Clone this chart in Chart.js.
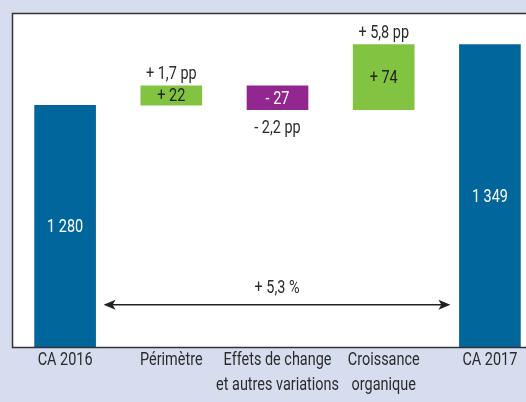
<!DOCTYPE html>
<html>
<head>
<meta charset="utf-8">
<script src="https://cdn.jsdelivr.net/npm/chart.js@4.4.0/dist/chart.umd.min.js"></script>
<style>
  html, body { margin: 0; padding: 0; overflow: hidden; background: #d5ddef; }
  #chartContainer { width: 543px; height: 402px; }
</style>
</head>
<body>
<div id="chartContainer"><canvas id="myChart"></canvas></div>
<script>
const categories = [["CA 2016"], ["Périmètre"], ["Effets de change", "et autres variations"], ["Croissance", "organique"], ["CA 2017"]];
const totals = [1280, null, null, null, 1349];
const changes = [null, 22, -27, 74, null];
const valueLabels = ["1 280", "+ 22", "- 27", "+ 74", "1 349"];
const ppLabels = ["", "+ 1,7 pp", "- 2,2 pp", "+ 5,8 pp", ""];
const growthLabel = "+ 5,3 %";

const barColors = ["#00669b", "#82c341", "#92278f", "#82c341", "#00669b"];
const valueColors = ["#ffffff", "#222222", "#ffffff", "#222222", "#ffffff"];
const textFont = '19px Roboto, "DejaVu Sans", sans-serif';
const narrow = 0.76; // the original uses a condensed face

// waterfall: totals stand on their own, changes float on the running total
var running = 0;
var barData = categories.map(function (c, i) {
    if (totals[i] != null) {
        running = totals[i];
        return totals[i];
    }
    var start = running;
    running += changes[i];
    return [start, running];
});

function narrowText(ctx, text, x, y) {
    ctx.save();
    ctx.translate(x, y);
    ctx.scale(narrow, 1);
    ctx.fillText(text, 0, 0);
    ctx.restore();
}

const backgroundPlugin = {
    id: 'background',
    beforeDraw(chart) {
        const ctx = chart.ctx, a = chart.chartArea;
        ctx.save();
        ctx.fillStyle = '#d5ddef';
        ctx.fillRect(0, 0, chart.width, chart.height);
        ctx.fillStyle = '#ffffff';
        ctx.fillRect(a.left, a.top, a.right - a.left, a.bottom - a.top);
        ctx.restore();
    }
};

const labelsPlugin = {
    id: 'waterfallLabels',
    afterDatasetsDraw(chart) {
        const ctx = chart.ctx, a = chart.chartArea;
        const meta = chart.getDatasetMeta(0);
        const xScale = chart.scales.x;
        ctx.save();

        // frame
        ctx.strokeStyle = '#333333';
        ctx.lineWidth = 1.5;
        ctx.strokeRect(a.left + 0.5, a.top + 0.5, a.right - a.left + 5, a.bottom - a.top);

        ctx.font = textFont;
        ctx.textAlign = 'center';
        meta.data.forEach(function (bar, i) {
            var top = Math.min(bar.y, bar.base);
            var bottom = Math.min(Math.max(bar.y, bar.base), a.bottom);
            ctx.fillStyle = valueColors[i];
            ctx.textBaseline = 'middle';
            narrowText(ctx, valueLabels[i], bar.x, (top + bottom) / 2 + 1);

            if (ppLabels[i]) {
                ctx.fillStyle = '#2b2b2b';
                ctx.textBaseline = 'alphabetic';
                if (changes[i] >= 0) {
                    narrowText(ctx, ppLabels[i], bar.x, top - 7);
                } else {
                    narrowText(ctx, ppLabels[i], bar.x, bottom + 23);
                }
            }
        });

        // category labels under the frame
        ctx.fillStyle = '#2b2b2b';
        ctx.textBaseline = 'alphabetic';
        categories.forEach(function (lines, i) {
            var x = xScale.getPixelForValue(i);
            lines.forEach(function (line, j) {
                narrowText(ctx, line, x, a.bottom + 18 + j * 25);
            });
        });

        // growth arrow between the two totals
        var first = meta.data[0], last = meta.data[meta.data.length - 1];
        var x1 = first.x + first.width / 2 + 8;
        var x2 = last.x - last.width / 2 - 9;
        var y = chart.scales.y.getPixelForValue(1053);
        ctx.strokeStyle = '#222222';
        ctx.fillStyle = '#222222';
        ctx.lineWidth = 1.5;
        ctx.beginPath();
        ctx.moveTo(x1 + 6, y);
        ctx.lineTo(x2 - 6, y);
        ctx.stroke();
        ctx.beginPath();
        ctx.moveTo(x1, y);
        ctx.lineTo(x1 + 12, y - 5);
        ctx.lineTo(x1 + 9, y);
        ctx.lineTo(x1 + 12, y + 5);
        ctx.closePath();
        ctx.fill();
        ctx.beginPath();
        ctx.moveTo(x2, y);
        ctx.lineTo(x2 - 12, y - 5);
        ctx.lineTo(x2 - 9, y);
        ctx.lineTo(x2 - 12, y + 5);
        ctx.closePath();
        ctx.fill();

        ctx.fillStyle = '#2b2b2b';
        narrowText(ctx, growthLabel, (x1 + x2) / 2, y - 12);
        ctx.restore();
    }
};

const config = {
    type: 'bar',
    data: {
        labels: categories,
        datasets: [{
            data: barData,
            backgroundColor: barColors,
            borderWidth: 0,
            barThickness: 61
        }]
    },
    options: {
        responsive: true,
        maintainAspectRatio: false,
        animation: false,
        layout: {
            padding: { left: 12, top: 13, right: 0, bottom: 0 }
        },
        plugins: {
            legend: { display: false },
            tooltip: { enabled: false }
        },
        scales: {
            x: {
                grid: { display: false, drawTicks: false },
                border: { display: false },
                ticks: { display: false },
                afterFit(scale) { scale.height = 55; }
            },
            y: {
                display: false,
                min: 1005,
                max: 1385
            }
        }
    },
    plugins: [backgroundPlugin, labelsPlugin]
};

myChart = new Chart(document.getElementById('myChart'), config);
</script>
</body>
</html>
